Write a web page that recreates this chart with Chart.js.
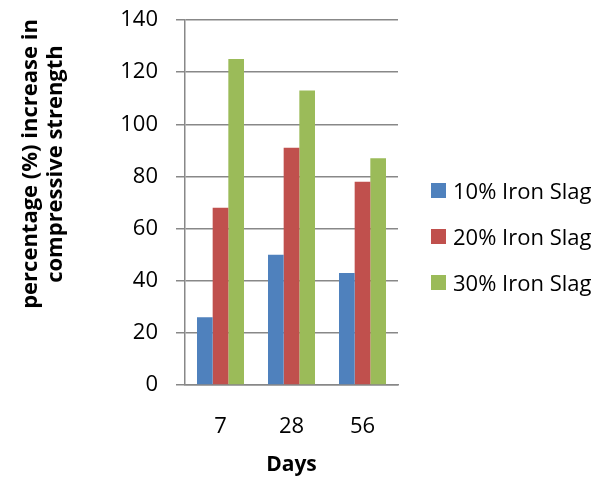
<!DOCTYPE html>
<html>
<head>
<meta charset="utf-8">
<script src="https://cdn.jsdelivr.net/npm/chart.js@4"></script>
<style>
  body { margin: 0; background: #fff; }
  #wrap { position: relative; width: 612px; height: 481px; }
  #ytitle {
    position: absolute; left: -109.5px; top: 139px; width: 300px; height: 50px;
    transform: rotate(-90deg); transform-origin: center;
    font: bold 22px "Open Sans"; line-height: 25px; text-align: center; white-space: nowrap; color: #000;
  }
  #legend { position: absolute; left: 431px; top: 167px; font: 22px "Open Sans"; color: #000; }
  #legend .row { height: 46px; display: flex; align-items: center; }
  #legend .box { width: 15px; height: 15px; margin-right: 7px; }
</style>
</head>
<body>
<div id="wrap">
  <canvas id="chart" width="612" height="481"></canvas>
  <div id="ytitle">percentage (%) increase in<br>compressive strength</div>
  <div id="legend"></div>
</div>
<script>
// values
const days = ['7', '28', '56'];
const seriesNames = ['10% Iron Slag', '20% Iron Slag', '30% Iron Slag'];
const slag10 = [26, 50, 43];
const slag20 = [68, 91, 78];
const slag30 = [125, 113, 87];
const seriesColors = ['#4F81BD', '#C0504D', '#9BBB59'];
const yMin = 0, yMax = 140, yStep = 20;

const gridColor = '#888888';
const values = [slag10, slag20, slag30];

new Chart(document.getElementById('chart').getContext('2d'), {
  type: 'bar',
  data: {
    labels: days,
    datasets: values.map((v, i) => ({
      label: seriesNames[i],
      data: v,
      backgroundColor: seriesColors[i],
      borderWidth: 0,
      categoryPercentage: 0.662,
      barPercentage: 1
    }))
  },
  options: {
    responsive: false,
    animation: false,
    layout: { padding: { left: 0, top: 20, right: 214, bottom: 0 } },
    plugins: { legend: { display: false }, tooltip: { enabled: false } },
    scales: {
      x: {
        grid: { display: false, drawTicks: false },
        border: { display: true, color: gridColor, width: 1.5 },
        ticks: { color: '#000', font: { family: 'Open Sans', size: 22 }, padding: 29 },
        title: {
          display: true, text: 'Days', color: '#000',
          font: { family: 'Open Sans', size: 21, weight: 'bold' },
          padding: { top: 4, bottom: 3 }
        },
        afterFit: s => { s.height = 96; }
      },
      y: {
        min: yMin, max: yMax,
        grid: { color: gridColor, lineWidth: 1.5, tickLength: 9 },
        border: { display: true, color: gridColor, width: 1.5 },
        ticks: { stepSize: yStep, color: '#000', font: { family: 'Open Sans', size: 22 }, padding: 18 },
        afterFit: s => { s.width = 185; s.paddingTop = 0; s.paddingBottom = 0; }
      }
    }
  }
});

// legend built from the same arrays
const legend = document.getElementById('legend');
seriesNames.forEach((name, i) => {
  const row = document.createElement('div');
  row.className = 'row';
  row.innerHTML = '<span class="box" style="background:' + seriesColors[i] + '"></span><span>' + name + '</span>';
  legend.appendChild(row);
});
</script>
</body>
</html>
